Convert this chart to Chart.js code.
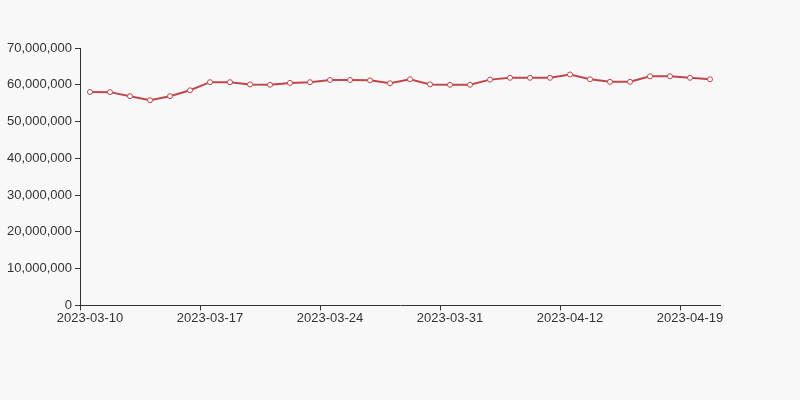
<!DOCTYPE html>
<html><head><meta charset="utf-8">
<script src="https://cdn.jsdelivr.net/npm/chart.js@4"></script>
<style>html,body{margin:0;background:#f8f8f8;}#w{width:800px;height:400px;}</style>
</head><body><div id="w"><canvas id="c"></canvas></div>
<script>
const dates = ["2023-03-10","2023-03-13","2023-03-14","2023-03-15","2023-03-16","2023-03-16b","2023-03-17","2023-03-20","2023-03-21","2023-03-22","2023-03-23","2023-03-23b","2023-03-24","2023-03-27","2023-03-28","2023-03-29","2023-03-30","2023-03-30b","2023-03-31","2023-04-03","2023-04-04","2023-04-06","2023-04-10","2023-04-11","2023-04-12","2023-04-13","2023-04-14","2023-04-17","2023-04-17b","2023-04-18","2023-04-19","2023-04-20"];
const values = [58.05,58.0,56.9,55.8,56.9,58.5,60.7,60.7,60.1,60.0,60.5,60.7,61.3,61.3,61.2,60.4,61.5,60.1,60.0,60.0,61.4,61.9,61.9,61.9,62.8,61.5,60.8,60.8,62.3,62.3,61.9,61.5].map(v=>Math.round(v*1e6));
const shownLabels = {0:"2023-03-10",6:"2023-03-17",12:"2023-03-24",18:"2023-03-31",24:"2023-04-12",30:"2023-04-19"};
const font = {family:"Arial, Liberation Sans, sans-serif", size:13};
new Chart(document.getElementById('c'), {
  type:'line',
  data:{labels:dates, datasets:[{data:values, borderColor:'#c1464b', borderWidth:2, backgroundColor:'#fff', pointBackgroundColor:'#fff', pointBorderColor:'#c1464b', pointBorderWidth:1, pointRadius:2.5, tension:0}]},
  options:{responsive:true, maintainAspectRatio:false, animation:false,
    layout:{padding:{left:0,right:80,top:48,bottom:74}},
    plugins:{legend:{display:false}, tooltip:{enabled:false}},
    scales:{
      x:{offset:true, grid:{offset:true, drawOnChartArea:false, tickLength:5, tickColor:(c)=>(c.index%6===0?'#333':'rgba(0,0,0,0)')}, border:{color:'#333'},
        ticks:{autoSkip:false, maxRotation:0, color:'#333', font, padding:0, callback:(v,i)=>shownLabels[i]||''}},
      y:{min:0,max:70000000, afterFit:s=>{s.width=80;}, grid:{drawOnChartArea:false, tickLength:5, tickColor:'#333'}, border:{color:'#333'},
        ticks:{stepSize:10000000, color:'#333', font, callback:v=>v.toLocaleString('en-US')}}
    }}
});
</script></body></html>
